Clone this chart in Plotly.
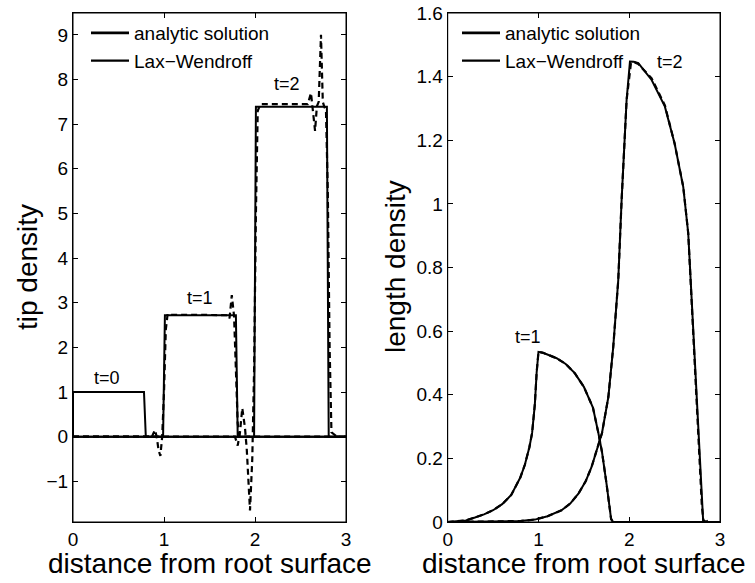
import plotly.graph_objects as go

FONT = "Liberation Sans, Arial, Helvetica, sans-serif"

# ---------------- left panel: tip density ----------------
tip_t0_x = [0.0, 0.0, 0.78, 0.80, 3.0]
tip_t0_y = [0.0, 1.0, 1.0, 0.0, 0.0]

tip_t1_x = [0.0, 0.99, 1.01, 1.79, 1.81, 3.0]
tip_t1_y = [0.0, 0.0, 2.72, 2.72, 0.0, 0.0]

tip_t2_x = [0.0, 1.99, 2.01, 2.79, 2.81, 3.0]
tip_t2_y = [0.0, 0.0, 7.39, 7.39, 0.0, 0.0]

lw_t1_x = [0.0, 0.84, 0.86, 0.88, 0.90, 0.92, 0.94, 0.96, 0.98, 1.00, 1.02, 1.04, 1.06,
           1.40, 1.68, 1.70, 1.72, 1.745, 1.77, 1.79, 1.81, 1.83, 3.0]
lw_t1_y = [0.0, 0.0, -0.03, 0.05, 0.15, 0.0, -0.3, -0.43, 0.0, 1.0, 2.4, 2.75, 2.73,
           2.73, 2.73, 2.72, 2.65, 3.17, 2.7, 1.5, 0.3, 0.0, 0.0]

lw_t2_x = [0.0, 1.78, 1.81, 1.835, 1.86, 1.89, 1.91, 1.945, 1.97, 1.99, 2.01, 2.03, 2.06,
           2.40, 2.58, 2.615, 2.64, 2.66, 2.68, 2.70, 2.725, 2.745, 2.76, 2.78, 2.80,
           2.82, 2.84, 2.87, 2.90, 3.0]
lw_t2_y = [0.0, 0.0, -0.2, 0.1, 0.64, 0.2, -0.3, -1.65, -0.5, 1.5, 5.0, 7.3, 7.45,
           7.45, 7.45, 7.7, 7.3, 6.85, 7.4, 7.5, 9.0, 7.5, 7.4, 7.3, 5.5,
           2.0, 0.1, 0.05, 0.0, 0.0]

# ---------------- right panel: length density ----------------
len_t1_x = [0.0, 0.2, 0.3, 0.4, 0.5, 0.6, 0.7, 0.8, 0.85, 0.9, 0.93, 0.96, 0.98, 1.0,
            1.05, 1.1, 1.2, 1.3, 1.4, 1.5, 1.6, 1.66, 1.7, 1.75, 1.8, 1.82, 3.0]
len_t1_y = [0.0, 0.005, 0.014, 0.024, 0.037, 0.056, 0.085, 0.14, 0.18, 0.235, 0.28, 0.37,
            0.47, 0.535, 0.532, 0.527, 0.515, 0.497, 0.468, 0.425, 0.36, 0.28, 0.22,
            0.12, 0.01, 0.0, 0.0]

len_t2_x = [0.0, 0.6, 0.8, 0.96, 1.1, 1.255, 1.35, 1.44, 1.52, 1.585, 1.65, 1.7, 1.77,
            1.824, 1.879, 1.916, 1.971, 2.008, 2.05, 2.1, 2.247, 2.393, 2.5, 2.595, 2.65,
            2.687, 2.75, 2.815, 3.0]
len_t2_y = [0.0, 0.001, 0.003, 0.0075, 0.018, 0.037, 0.058, 0.089, 0.128, 0.173, 0.235,
            0.28, 0.393, 0.551, 0.76, 1.012, 1.327, 1.448, 1.447, 1.443, 1.39, 1.306, 1.19,
            1.054, 0.908, 0.698, 0.36, 0.0, 0.0]

lw_len_t1_x = len_t1_x
lw_len_t1_y = len_t1_y
lw_len_t2_x = [0.0, 0.6, 0.8, 0.96, 1.1, 1.255, 1.35, 1.44, 1.52, 1.585, 1.65, 1.7, 1.77,
               1.824, 1.879, 1.916, 1.971, 2.02, 2.06, 2.1, 2.247, 2.393, 2.5, 2.595, 2.65,
               2.687, 2.75, 2.80, 2.82, 2.84, 2.86, 3.0]
lw_len_t2_y = [0.0, 0.001, 0.003, 0.0075, 0.018, 0.037, 0.058, 0.089, 0.128, 0.173, 0.235,
               0.28, 0.393, 0.551, 0.76, 1.012, 1.327, 1.445, 1.445, 1.44, 1.395, 1.31, 1.19,
               1.054, 0.908, 0.698, 0.36, 0.05, 0.0, 0.012, 0.0, 0.0]

# tick values
x_ticks = [0, 1, 2, 3]
tip_ticks = [-1, 0, 1, 2, 3, 4, 5, 6, 7, 8, 9]
len_ticks = [0, 0.2, 0.4, 0.6, 0.8, 1.0, 1.2, 1.4, 1.6]
len_tick_text = ["0", "0.2", "0.4", "0.6", "0.8", "1", "1.2", "1.4", "1.6"]

legend_names = ["analytic solution", "Lax\u2212Wendroff"]

left_labels = ["t=0", "t=1", "t=2"]
left_label_x = [0.379, 1.396, 2.357]
left_label_y = [1.31, 3.11, 7.91]
right_labels = ["t=1", "t=2"]
right_label_x = [0.888, 2.448]
right_label_y = [0.582, 1.448]

W, H = 755, 583


def px(p):
    return p / W


def py(p):
    return 1 - p / H


SOLID = dict(color="black", width=2)
DASH = dict(color="black", width=2.2, dash="6px,4px")

fig = go.Figure()


def add(x, y, line, xa, ya):
    fig.add_trace(go.Scatter(x=x, y=y, mode="lines", line=line, xaxis=xa, yaxis=ya,
                             showlegend=False, hoverinfo="skip"))


# left panel
for xs, ys in [(lw_t1_x, lw_t1_y), (lw_t2_x, lw_t2_y)]:
    add(xs, ys, DASH, "x", "y")
for xs, ys in [(tip_t0_x, tip_t0_y), (tip_t1_x, tip_t1_y), (tip_t2_x, tip_t2_y)]:
    add(xs, ys, SOLID, "x", "y")
# right panel
for xs, ys in [(lw_len_t1_x, lw_len_t1_y), (lw_len_t2_x, lw_len_t2_y)]:
    add(xs, ys, DASH, "x2", "y2")
for xs, ys in [(len_t1_x, len_t1_y), (len_t2_x, len_t2_y)]:
    add(xs, ys, SOLID, "x2", "y2")

# legend entries (MATLAB draws both samples solid)
for lg, xa, ya in [("legend", "x", "y"), ("legend2", "x2", "y2")]:
    fig.add_trace(go.Scatter(x=[None], y=[None], mode="lines", name=legend_names[0],
                             line=dict(color="black", width=2.8), legend=lg, xaxis=xa, yaxis=ya))
    fig.add_trace(go.Scatter(x=[None], y=[None], mode="lines", name=legend_names[1],
                             line=dict(color="black", width=2.2), legend=lg, xaxis=xa, yaxis=ya))

ydom = [py(522), py(13)]
axis_common = dict(showline=True, linecolor="black", linewidth=1, mirror="allticks",
                   ticks="inside", ticklen=5, tickwidth=1, tickcolor="black",
                   showgrid=False, zeroline=False, automargin=False,
                   ticklabeloverflow="allow",
                   tickfont=dict(family=FONT, size=19, color="black"))

legend_common = dict(xanchor="left", yanchor="top", bgcolor="rgba(0,0,0,0)", borderwidth=0,
                     font=dict(family=FONT, size=19, color="black"),
                     itemwidth=38, tracegroupgap=0)

fig.update_layout(
    template="none",
    width=W, height=H,
    margin=dict(l=0, r=0, t=0, b=0, autoexpand=False),
    paper_bgcolor="white", plot_bgcolor="white",
    font=dict(family=FONT, color="black"),
    xaxis=dict(domain=[px(73), px(346)], range=[0, 3], tickmode="array", tickvals=x_ticks,
               anchor="y", **axis_common),
    yaxis=dict(domain=ydom, range=[-1.91, 9.49], tickmode="array", tickvals=tip_ticks,
               anchor="x", **axis_common),
    xaxis2=dict(domain=[px(447.7), px(720)], range=[0, 3], tickmode="array", tickvals=x_ticks,
                anchor="y2", **axis_common),
    yaxis2=dict(domain=ydom, range=[0, 1.6005], tickmode="array", tickvals=len_ticks,
                ticktext=len_tick_text, anchor="x2", **axis_common),
    legend=dict(x=px(86), y=py(14), **legend_common),
    legend2=dict(x=px(457), y=py(14), **legend_common),
)

# plot frames
for xr, yr in [("x domain", "y domain"), ("x2 domain", "y2 domain")]:
    fig.add_shape(type="rect", xref=xr, yref=yr, x0=0, x1=1, y0=0, y1=1,
                  line=dict(color="black", width=1), fillcolor="rgba(0,0,0,0)", layer="above")

for t, xv, yv in zip(left_labels, left_label_x, left_label_y):
    fig.add_annotation(x=xv, y=yv, xref="x", yref="y", text=t, showarrow=False,
                       xanchor="center", yanchor="middle",
                       font=dict(family=FONT, size=18, color="black"))
for t, xv, yv in zip(right_labels, right_label_x, right_label_y):
    fig.add_annotation(x=xv, y=yv, xref="x2", yref="y2", text=t, showarrow=False,
                       xanchor="center", yanchor="middle",
                       font=dict(family=FONT, size=18, color="black"))

# axis titles
title_font = dict(family=FONT, size=28, color="black")
for xc in [209.5, 584]:
    fig.add_annotation(x=px(xc), y=py(563), xref="paper", yref="paper",
                       xanchor="center", yanchor="middle",
                       text="distance from root surface", showarrow=False, font=title_font)
fig.add_annotation(x=px(27), y=py(267), xref="paper", yref="paper", textangle=-90,
                   xanchor="center", yanchor="middle",
                   text="tip density", showarrow=False, font=title_font)
fig.add_annotation(x=px(395), y=py(267), xref="paper", yref="paper", textangle=-90,
                   xanchor="center", yanchor="middle",
                   text="length density", showarrow=False, font=title_font)

# remove the default page margin so the 755x583 figure fills the window exactly
fig.write_html("out.html",
               config={"displayModeBar": False, "staticPlot": True},
               post_script="document.body.style.margin='0';document.body.style.overflow='hidden';")
